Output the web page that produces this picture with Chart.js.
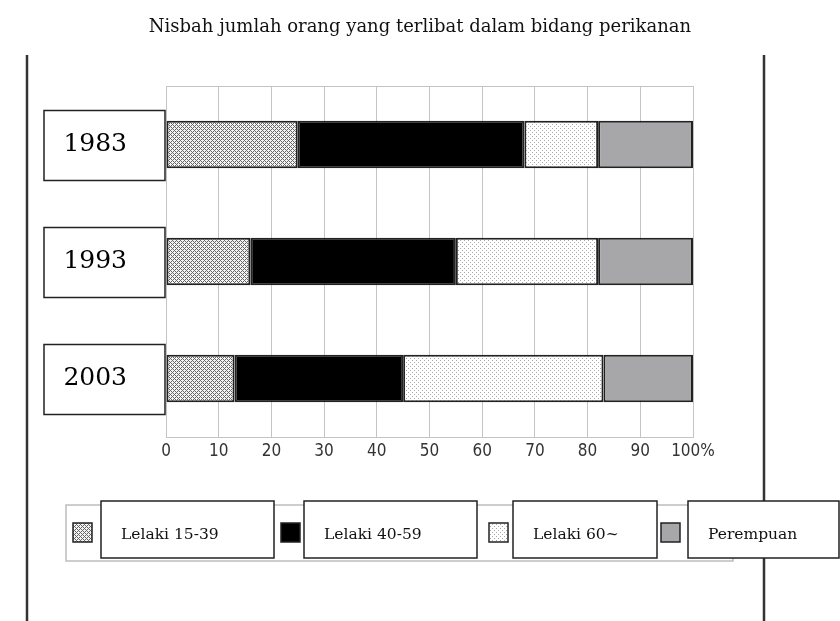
<!DOCTYPE html>
<html>
<head>
<meta charset="utf-8">
<script src="https://cdn.jsdelivr.net/npm/chart.js@4"></script>
<style>
  html, body { margin: 0; padding: 0; background: #fff; }
  #wrap { width: 840px; height: 621px; position: relative; }
</style>
</head>
<body>
<div id="wrap"><canvas id="chart"></canvas></div>
<script>
const TITLE = 'Nisbah jumlah orang yang terlibat dalam bidang perikanan';
const YEARS = ['1983', '1993', '2003'];
const SERIES_LABELS = ['Lelaki 15-39', 'Lelaki 40-59', 'Lelaki 60~', 'Perempuan'];
const MALE_15_39 = [25, 16, 13];
const MALE_40_59 = [43, 39, 32];
const MALE_60 = [14, 27, 38];
const FEMALE = [18, 18, 17];
const X_TICKS = [0, 10, 20, 30, 40, 50, 60, 70, 80, 90, 100];

const GRID_COLOR = '#c4c4c4';
const EDGE_COLOR = '#222';
const SERIF = '"DejaVu Serif", serif';

// small tiles for the screen-tone fills
function makePattern(size, bg, fg, hit) {
  const c = document.createElement('canvas');
  c.width = size;
  c.height = size;
  const g = c.getContext('2d');
  g.fillStyle = bg;
  g.fillRect(0, 0, size, size);
  g.fillStyle = fg;
  for (let y = 0; y < size; y++) {
    for (let x = 0; x < size; x++) {
      if (hit(x, y)) g.fillRect(x, y, 1, 1);
    }
  }
  return g.createPattern(c, 'repeat');
}

const crossHatch = makePattern(4, '#f4f4f4', '#666666',
  (x, y) => (x + y) % 4 === 0 || (x - y + 8) % 4 === 0);
const dotted = makePattern(4, '#ffffff', '#a8a8a8',
  (x, y) => (x === 0 && y === 0) || (x === 2 && y === 2));

const FILLS = [crossHatch, '#000000', dotted, '#a7a7aa'];
const VALUES = [MALE_15_39, MALE_40_59, MALE_60, FEMALE];

// page furniture: side rules, year boxes, boxed legend
const decorPlugin = {
  id: 'decor',
  afterDraw(chart) {
    const { ctx } = chart;
    const yScale = chart.scales.y;
    ctx.save();

    ctx.strokeStyle = '#333';
    ctx.lineWidth = 2.5;
    ctx.beginPath();
    ctx.moveTo(27, 55); ctx.lineTo(27, 621);
    ctx.moveTo(764, 55); ctx.lineTo(764, 621);
    ctx.stroke();

    ctx.lineWidth = 1.5;
    ctx.strokeStyle = EDGE_COLOR;
    YEARS.forEach((_, i) => {
      const cy = yScale.getPixelForTick(i);
      ctx.strokeRect(44, cy - 34, 121, 70);
    });

    // legend frame
    ctx.strokeStyle = '#bdbdbd';
    ctx.lineWidth = 1.5;
    ctx.strokeRect(66, 505, 667, 56);

    const swatchX = [73, 281, 489, 661];
    const boxes = [[101, 274], [304, 477], [513, 657], [688, 839]];
    chart.data.datasets.forEach((ds, i) => {
      ctx.fillStyle = ds.backgroundColor;
      ctx.fillRect(swatchX[i], 523, 19, 19);
      ctx.strokeStyle = EDGE_COLOR;
      ctx.lineWidth = 1.5;
      ctx.strokeRect(swatchX[i], 523, 19, 19);

      const [bx0, bx1] = boxes[i];
      ctx.fillStyle = '#fff';
      ctx.fillRect(bx0, 501, bx1 - bx0, 57);
      ctx.strokeRect(bx0, 501, bx1 - bx0, 57);

      ctx.fillStyle = '#111';
      ctx.font = '15.5px ' + SERIF;
      ctx.textBaseline = 'middle';
      ctx.textAlign = 'left';
      ctx.fillText(ds.label, bx0 + 20, 535);
    });

    ctx.restore();
  }
};

new Chart(document.getElementById('chart'), {
  type: 'bar',
  data: {
    labels: YEARS,
    datasets: SERIES_LABELS.map((label, i) => ({
      label,
      data: VALUES[i],
      backgroundColor: FILLS[i],
      borderColor: EDGE_COLOR,
      borderWidth: 2,
      borderSkipped: false,
      categoryPercentage: 1,
      barPercentage: 0.405
    }))
  },
  options: {
    indexAxis: 'y',
    responsive: true,
    maintainAspectRatio: false,
    animation: false,
    layout: { padding: { left: 0, right: 0, top: 0, bottom: 154 } },
    plugins: {
      legend: { display: false },
      tooltip: { enabled: false },
      title: {
        display: true,
        text: TITLE,
        color: '#111',
        font: { family: SERIF, size: 18, weight: 'normal', lineHeight: 1.2 },
        padding: { top: 17, bottom: 47.4 }
      }
    },
    scales: {
      x: {
        stacked: true,
        min: 0,
        max: 100,
        afterBuildTicks: (scale) => { scale.ticks = X_TICKS.map(v => ({ value: v })); },
        afterFit: (scale) => { scale.height = 30; },
        grid: { color: GRID_COLOR, drawTicks: false },
        border: { color: GRID_COLOR },
        ticks: {
          color: '#333',
          padding: 4,
          font: { family: '"Liberation Sans Narrow", "DejaVu Sans Condensed", sans-serif', size: 17 },
          callback: (v) => (v === 100 ? '100%' : String(v))
        }
      },
      y: {
        stacked: true,
        afterFit: (scale) => { scale.width = 166; },
        grid: {
          drawTicks: false,
          color: (ctx) => (ctx.index === 0 || ctx.index === YEARS.length ? GRID_COLOR : 'rgba(0,0,0,0)')
        },
        border: { color: GRID_COLOR },
        ticks: {
          color: '#000',
          padding: 39,
          font: { family: SERIF, size: 25 }
        }
      },
      // empty right-hand strip so the title stays centred on the page
      yRight: {
        type: 'category',
        position: 'right',
        labels: YEARS,
        afterFit: (scale) => { scale.width = 147; },
        grid: { display: false },
        border: { display: false },
        ticks: { display: false }
      }
    }
  },
  plugins: [decorPlugin]
});
</script>
</body>
</html>
